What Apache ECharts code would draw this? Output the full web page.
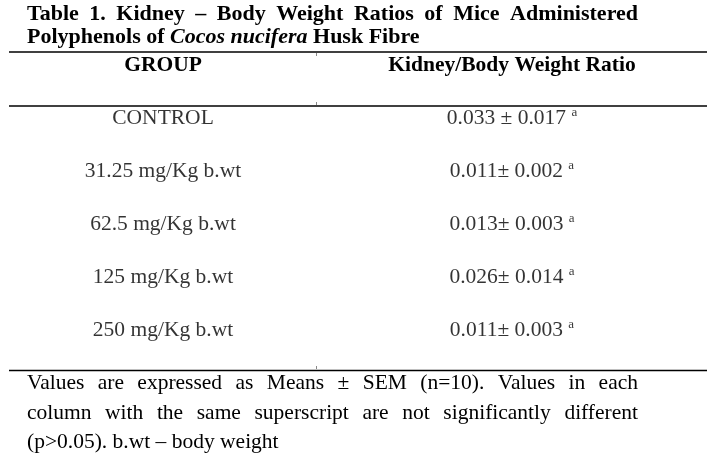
<!DOCTYPE html>
<html><head><meta charset="utf-8">
<script src="https://cdn.jsdelivr.net/npm/echarts@6/dist/echarts.min.js"></script>
<style>html,body{margin:0;padding:0;background:#fff}#c{width:717px;height:467px}</style>
</head><body><div id="c"></div>
<script>
// ---- data ----
const titleLine1 = 'Table 1. Kidney – Body Weight Ratios of Mice Administered';
const titleLine2 = [['Polyphenols of ', 'b'], ['Cocos nucifera', 'bi'], [' Husk Fibre', 'b']];
const headers = ['GROUP', 'Kidney/Body Weight Ratio'];
const groups = ['CONTROL', '31.25 mg/Kg b.wt', '62.5 mg/Kg b.wt', '125 mg/Kg b.wt', '250 mg/Kg b.wt'];
const means = [0.033, 0.011, 0.013, 0.026, 0.011];
const sems = [0.017, 0.002, 0.003, 0.014, 0.003];
const pmSep = [' ± ', '± ', '± ', '± ', '± '];
const superscripts = ['a', 'a', 'a', 'a', 'a'];
const footnoteLines = [
  'Values are expressed as Means ± SEM (n=10). Values in each',
  'column with the same superscript are not significantly different',
  '(p>0.05). b.wt – body weight'
];

// ---- layout helpers ----
const FONT = '"Liberation Serif", "Times New Roman", serif';
const ctx = document.createElement('canvas').getContext('2d');
function justify(line, x0, x1, y, size, weight, last) {
  const words = line.split(' ');
  ctx.font = weight + ' ' + size + 'px ' + FONT;
  const widths = words.map(w => ctx.measureText(w).width);
  const total = widths.reduce((a, b) => a + b, 0);
  const gap = last ? ctx.measureText(' ').width : (x1 - x0 - total) / (words.length - 1);
  let x = x0;
  return words.map((w, i) => {
    const el = { type: 'text', x: x, y: y, silent: true,
      style: { text: w, fontFamily: FONT, fontSize: size, fontWeight: weight, fill: '#000', verticalAlign: 'middle' } };
    x += widths[i] + gap;
    return el;
  });
}
function rule(y) {
  return { type: 'line', silent: true, shape: { x1: 9, y1: y, x2: 707, y2: y }, style: { stroke: '#000', lineWidth: 1.5 } };
}
function tick(y1, y2) {
  return { type: 'line', silent: true, shape: { x1: 316.5, y1: y1, x2: 316.5, y2: y2 }, style: { stroke: '#888', lineWidth: 1 } };
}

const L = 27, R = 638;
const TS = 22, BS = 21.5;
const graphics = [].concat(
  justify(titleLine1, L, R, 14, TS, 'bold', false),
  [{ type: 'text', x: L, y: 37, silent: true, style: {
      text: titleLine2.map(p => '{' + p[1] + '|' + p[0] + '}').join(''),
      verticalAlign: 'middle',
      rich: {
        b: { fontFamily: FONT, fontSize: TS, fontWeight: 'bold', fill: '#000' },
        bi: { fontFamily: FONT, fontSize: TS, fontWeight: 'bold', fontStyle: 'italic', fill: '#000' }
      } } }],
  [rule(52), rule(106), rule(370.5), tick(53, 56), tick(102, 105), tick(366, 369)],
  justify(footnoteLines[0], L, R, 383, BS, 'normal', false),
  justify(footnoteLines[1], L, R, 413, BS, 'normal', false),
  justify(footnoteLines[2], L, R, 442, BS, 'normal', true)
);

const chart = echarts.init(document.getElementById('c'), null, { renderer: 'canvas' });
chart.setOption({
  animation: false,
  backgroundColor: '#fff',
  grid: { left: 163, right: 717 - 512, top: 118, bottom: 467 - 330 },
  xAxis: {
    type: 'category', data: headers, position: 'top', boundaryGap: false,
    axisLine: { show: false }, axisTick: { show: false }, splitLine: { show: false },
    axisLabel: { margin: 53, fontSize: BS, fontWeight: 'bold', fontFamily: FONT, color: '#000', verticalAlign: 'middle', interval: 0 }
  },
  yAxis: { type: 'category', data: groups, inverse: true, boundaryGap: false, show: false },
  series: [
    {
      type: 'scatter', symbolSize: 1, itemStyle: { color: 'rgba(0,0,0,0)' }, silent: true,
      data: groups.map((g, i) => [0, i]),
      label: { show: true, position: 'inside', color: '#000', fontFamily: FONT, fontSize: BS,
        formatter: p => groups[p.data[1]] }
    },
    {
      type: 'scatter', symbolSize: 1, itemStyle: { color: 'rgba(0,0,0,0)' }, silent: true,
      data: means.map((m, i) => [1, i]),
      label: { show: true, position: 'inside', color: '#000',
        formatter: p => {
          const i = p.data[1];
          return '{v|' + means[i].toFixed(3) + pmSep[i] + sems[i].toFixed(3) + ' }{s|' + superscripts[i] + '}';
        },
        rich: {
          v: { fontFamily: FONT, fontSize: BS, color: '#000', lineHeight: 24 },
          s: { fontFamily: FONT, fontSize: 13, color: '#000', lineHeight: 13, verticalAlign: 'top' }
        } }
    }
  ],
  graphic: graphics
});
</script></body></html>
